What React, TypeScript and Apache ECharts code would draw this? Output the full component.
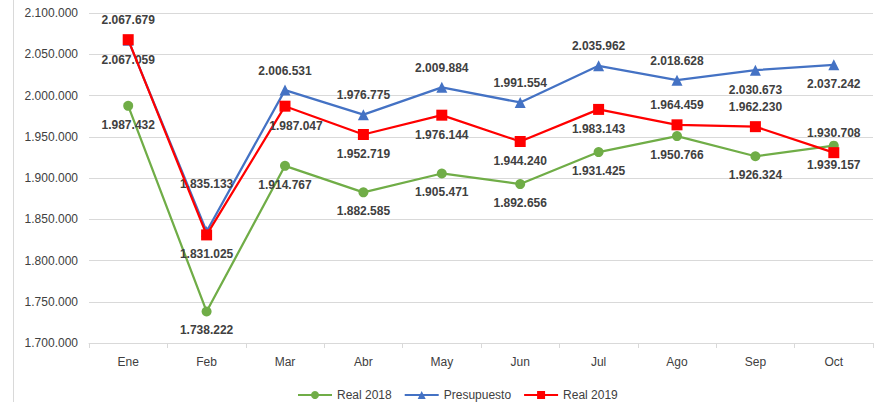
import React, { useEffect, useRef } from "react";
import * as echarts from "echarts";

const categories = ["Ene", "Feb", "Mar", "Abr", "May", "Jun", "Jul", "Ago", "Sep", "Oct"];
const real2018 = [1987432, 1738222, 1914767, 1882585, 1905471, 1892656, 1931425, 1950766, 1926324, 1939157];
const presupuesto = [2067059, 1835133, 2006531, 1976775, 2009884, 1991554, 2035962, 2018628, 2030673, 2037242];
const real2019 = [2067679, 1831025, 1987047, 1952719, 1976144, 1944240, 1983143, 1964459, 1962230, 1930708];

const pos2018 = ["bottom", "bottom", "bottom", "bottom", "bottom", "bottom", "bottom", "bottom", "bottom", "bottom"];
const posPres = ["bottom", "top", "top", "top", "top", "top", "top", "top", "bottom", "bottom"];
const pos2019 = ["top", "bottom", "bottom", "bottom", "bottom", "bottom", "bottom", "top", "top", "top"];

const fmt = (v: number) => {
  const s = Math.round(v).toString();
  return s.replace(/\B(?=(\d{3})+(?!\d))/g, ".");
};

const FONT = "'Liberation Sans', Arial, sans-serif";

function buildData(values: number[], positions: string[], extra?: Record<number, any>) {
  return values.map((v, i) => ({
    value: v,
    label: { position: positions[i], distance: 8, ...(extra && extra[i] ? extra[i] : {}) },
  }));
}

export default function App() {
  const ref = useRef<HTMLDivElement>(null);
  useEffect(() => {
    if (!ref.current) return;
    const chart = echarts.init(ref.current, undefined, { renderer: "svg" });
    const labelBase = {
      show: true,
      color: "#404040",
      fontWeight: "bold",
      fontSize: 12,
      fontFamily: FONT,
      formatter: (p: any) => fmt(p.value),
    };
    chart.setOption({
      animation: false,
      backgroundColor: "#ffffff",
      textStyle: { fontFamily: FONT },
      grid: { left: 89, right: 3, top: 13, bottom: 59, containLabel: false },
      graphic: [
        { type: "line", shape: { x1: 13.5, y1: 0, x2: 13.5, y2: 402 }, style: { stroke: "#D9D9D9", lineWidth: 1 } },
      ],
      legend: {
        left: 292,
        top: 384,
        itemWidth: 34,
        itemHeight: 10,
        itemGap: 12,
        textStyle: { color: "#404040", fontSize: 12, fontFamily: FONT },
        data: ["Real 2018", "Presupuesto", "Real 2019"],
      },
      xAxis: {
        type: "category",
        data: categories,
        boundaryGap: true,
        axisLine: { lineStyle: { color: "#D9D9D9" } },
        axisTick: { show: true, alignWithLabel: false, length: 5, lineStyle: { color: "#D9D9D9" } },
        axisLabel: { color: "#404040", fontSize: 12, margin: 13, fontFamily: FONT },
      },
      yAxis: {
        type: "value",
        min: 1700000,
        max: 2100000,
        interval: 50000,
        axisLine: { show: false },
        axisTick: { show: false },
        splitLine: { lineStyle: { color: "#D9D9D9" } },
        axisLabel: { color: "#404040", fontSize: 12, margin: 11, fontFamily: FONT, formatter: (v: number) => fmt(v) },
      },
      series: [
        {
          name: "Real 2018",
          type: "line",
          data: buildData(real2018, pos2018),
          symbol: "circle",
          symbolSize: 10,
          color: "#70AD47",
          lineStyle: { width: 2.25, color: "#70AD47" },
          itemStyle: { color: "#70AD47" },
          label: labelBase,
          z: 2,
        },
        {
          name: "Presupuesto",
          type: "line",
          data: buildData(presupuesto, posPres, { 1: { distance: 36 } }),
          symbol: "triangle",
          symbolSize: 11,
          color: "#4472C4",
          lineStyle: { width: 2.25, color: "#4472C4" },
          itemStyle: { color: "#4472C4" },
          label: labelBase,
          z: 3,
        },
        {
          name: "Real 2019",
          type: "line",
          data: buildData(real2019, pos2019, { 2: { offset: [11, 0] } }),
          symbol: "rect",
          symbolSize: 11,
          color: "#FF0000",
          lineStyle: { width: 2.25, color: "#FF0000" },
          itemStyle: { color: "#FF0000" },
          label: labelBase,
          z: 4,
        },
      ],
    });
    return () => chart.dispose();
  }, []);
  return <div ref={ref} style={{ width: 876, height: 402, position: "absolute", left: 0, top: 0 }} />;
}
